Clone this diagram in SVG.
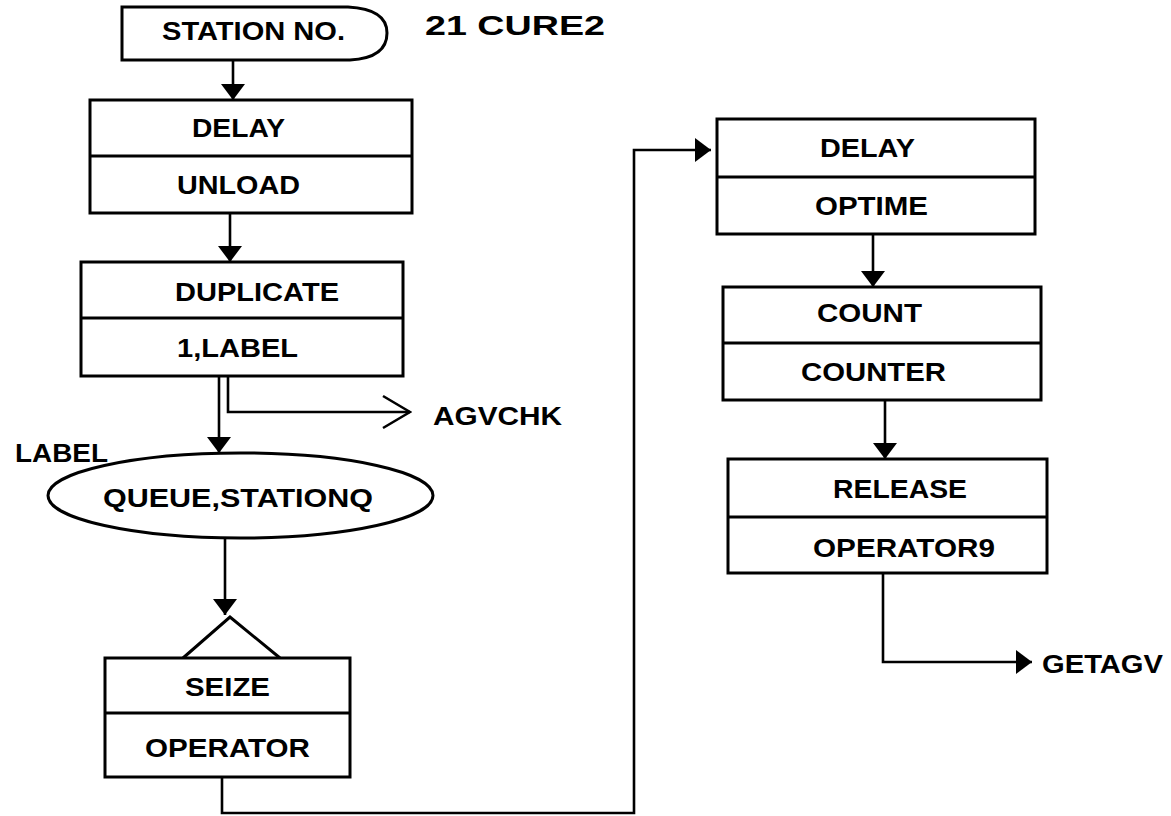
<svg xmlns="http://www.w3.org/2000/svg" width="1171" height="816" viewBox="0 0 1171 816">
<defs>
<style>
.box{fill:#fff;stroke:#000;stroke-width:3}
.div{stroke:#000;stroke-width:3;fill:none}
.t{font-family:"Liberation Sans",Arial,sans-serif;font-weight:bold;font-size:25px;fill:#000}
.big{font-size:28px}
.c{fill:none;stroke:#000;stroke-width:2.6}
</style>
<marker id="ah" viewBox="0 0 16 24" refX="16" refY="12" markerWidth="16" markerHeight="24" markerUnits="userSpaceOnUse" orient="auto">
<path d="M0,0 L16,12 L0,24 z" fill="#000"/>
</marker>
<marker id="oa" viewBox="0 0 30 36" refX="28" refY="18" markerWidth="30" markerHeight="36" markerUnits="userSpaceOnUse" orient="auto">
<path d="M1,2 L28,18 L1,34" fill="none" stroke="#000" stroke-width="2.6"/>
</marker>
</defs>
<rect width="1171" height="816" fill="#fff"/>

<g id="connectors">
<path class="c" d="M233,60 L233,100" marker-end="url(#ah)"/>
<path class="c" d="M230,213 L230,262" marker-end="url(#ah)"/>
<path class="c" d="M219,376 L219,453" marker-end="url(#ah)"/>
<path class="c" d="M228,376 L228,412 L410,412" marker-end="url(#oa)"/>
<path class="c" d="M225,538 L225,615" marker-end="url(#ah)"/>
<path class="c" d="M222,777 L222,813 L634,813 L634,150 L711,150" marker-end="url(#ah)"/>
<path class="c" d="M873,234 L873,287" marker-end="url(#ah)"/>
<path class="c" d="M885,400 L885,459" marker-end="url(#ah)"/>
<path class="c" d="M883,573 L883,662 L1032,662" marker-end="url(#ah)"/>
</g>

<g id="station">
<path class="box" d="M122,7 L348,7 Q387,9 387,33 Q387,58 350,60 L122,60 Z"/>
<text class="t" x="162" y="40" textLength="183" lengthAdjust="spacingAndGlyphs">STATION NO.</text>
</g>
<g id="title">
<text class="t big" x="425" y="35" textLength="180" lengthAdjust="spacingAndGlyphs">21 CURE2</text>
</g>

<g id="delay1">
<rect class="box" x="90" y="100" width="322" height="113"/>
<line class="div" x1="90" y1="156" x2="412" y2="156"/>
<text class="t" x="192" y="137" textLength="93" lengthAdjust="spacingAndGlyphs">DELAY</text>
<text class="t" x="177" y="194" textLength="123" lengthAdjust="spacingAndGlyphs">UNLOAD</text>
</g>

<g id="duplicate">
<rect class="box" x="81" y="262" width="322" height="114"/>
<line class="div" x1="81" y1="318" x2="403" y2="318"/>
<text class="t" x="175" y="301" textLength="164" lengthAdjust="spacingAndGlyphs">DUPLICATE</text>
<text class="t" x="177" y="357" textLength="121" lengthAdjust="spacingAndGlyphs">1,LABEL</text>
</g>

<g id="agvchk">
<text class="t" x="433" y="425" textLength="129" lengthAdjust="spacingAndGlyphs">AGVCHK</text>
</g>

<g id="queue">
<text class="t" x="15" y="462" textLength="93" lengthAdjust="spacingAndGlyphs">LABEL</text>
<ellipse class="box" cx="240.5" cy="495.5" rx="192.5" ry="42.5"/>
<text class="t" x="103" y="507" textLength="270" lengthAdjust="spacingAndGlyphs">QUEUE,STATIONQ</text>
</g>

<g id="seize">
<polyline class="div" points="183,658 230,617 280,658"/>
<rect class="box" x="105" y="658" width="245" height="119"/>
<line class="div" x1="105" y1="713" x2="350" y2="713"/>
<text class="t" x="185" y="696" textLength="85" lengthAdjust="spacingAndGlyphs">SEIZE</text>
<text class="t" x="145" y="757" textLength="165" lengthAdjust="spacingAndGlyphs">OPERATOR</text>
</g>

<g id="delay2">
<rect class="box" x="717" y="119" width="318" height="115"/>
<line class="div" x1="717" y1="177" x2="1035" y2="177"/>
<text class="t" x="820" y="157" textLength="95" lengthAdjust="spacingAndGlyphs">DELAY</text>
<text class="t" x="815" y="215" textLength="113" lengthAdjust="spacingAndGlyphs">OPTIME</text>
</g>

<g id="count">
<rect class="box" x="723" y="287" width="318" height="113"/>
<line class="div" x1="723" y1="343" x2="1041" y2="343"/>
<text class="t" x="817" y="322" textLength="105" lengthAdjust="spacingAndGlyphs">COUNT</text>
<text class="t" x="801" y="381" textLength="145" lengthAdjust="spacingAndGlyphs">COUNTER</text>
</g>

<g id="release">
<rect class="box" x="728" y="459" width="319" height="114"/>
<line class="div" x1="728" y1="517" x2="1047" y2="517"/>
<text class="t" x="833" y="498" textLength="134" lengthAdjust="spacingAndGlyphs">RELEASE</text>
<text class="t" x="813" y="557" textLength="182" lengthAdjust="spacingAndGlyphs">OPERATOR9</text>
</g>

<g id="getagv">
<text class="t" x="1042" y="673" textLength="121" lengthAdjust="spacingAndGlyphs">GETAGV</text>
</g>
</svg>
